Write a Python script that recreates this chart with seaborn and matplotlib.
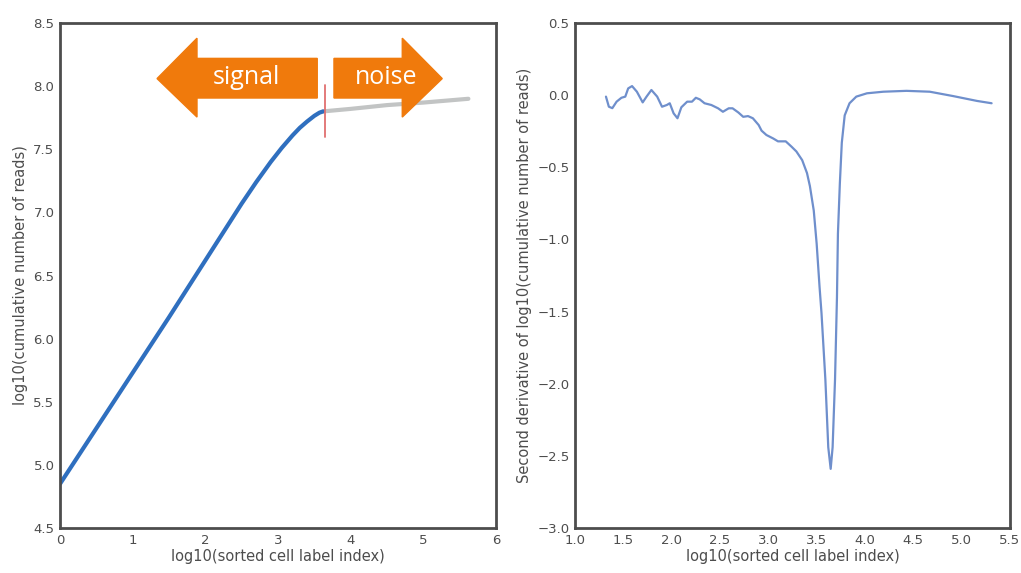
import numpy as np
import pandas as pd
import seaborn as sns
import matplotlib.pyplot as plt
from matplotlib.patches import Polygon

# cumulative reads curve (left panel)
signal_x = [0.0, 0.5, 1.0, 1.5, 2.0, 2.5, 2.7, 2.9, 3.05, 3.2, 3.3, 3.4, 3.5, 3.57, 3.62]
signal_y = [4.85, 5.29, 5.73, 6.17, 6.62, 7.07, 7.24, 7.40, 7.51, 7.61, 7.67, 7.72, 7.765, 7.79, 7.80]
noise_x = [3.62, 4.0, 4.5, 5.0, 5.62]
noise_y = [7.80, 7.82, 7.85, 7.87, 7.90]
cutoff = 3.65

# second derivative curve (right panel)
deriv_x = [1.32, 1.35, 1.386, 1.43, 1.48, 1.52, 1.55, 1.59, 1.64, 1.70, 1.74, 1.79,
           1.85, 1.90, 1.95, 1.98, 2.02, 2.06, 2.10, 2.16, 2.21, 2.25, 2.29, 2.34,
           2.41, 2.48, 2.53, 2.59, 2.63, 2.69, 2.74, 2.79, 2.84, 2.90, 2.93, 2.98,
           3.05, 3.10, 3.18, 3.24, 3.29, 3.35, 3.40, 3.43, 3.47, 3.50, 3.53, 3.55,
           3.59, 3.62, 3.645, 3.665, 3.69, 3.71, 3.72, 3.74, 3.76, 3.79, 3.84, 3.91,
           4.02, 4.19, 4.43, 4.67, 4.91, 5.16, 5.31]
deriv_y = [-0.01, -0.08, -0.09, -0.045, -0.018, -0.01, 0.047, 0.063, 0.024, -0.05, -0.01, 0.036,
           -0.01, -0.08, -0.068, -0.056, -0.126, -0.16, -0.084, -0.045, -0.045, -0.018, -0.029, -0.056,
           -0.068, -0.091, -0.115, -0.091, -0.091, -0.12, -0.15, -0.145, -0.16, -0.207, -0.246, -0.276,
           -0.30, -0.32, -0.32, -0.357, -0.39, -0.45, -0.54, -0.63, -0.80, -1.03, -1.33, -1.51,
           -1.97, -2.44, -2.59, -2.44, -1.97, -1.40, -0.96, -0.61, -0.33, -0.14, -0.056, -0.01,
           0.013, 0.024, 0.03, 0.024, -0.006, -0.04, -0.056]

sig_df = pd.DataFrame({'x': signal_x, 'y': signal_y})
noise_df = pd.DataFrame({'x': noise_x, 'y': noise_y})
deriv_df = pd.DataFrame({'x': deriv_x, 'y': deriv_y})

sns.set_style('white', {'axes.edgecolor': '.3'})
plt.rcParams['font.family'] = ['DejaVu Sans']
plt.rcParams['axes.linewidth'] = 2.0

fig = plt.figure(figsize=(10.21, 5.73), dpi=100)
ax1 = fig.add_axes([0.0588, 0.0785, 0.427, 0.8813])
ax2 = fig.add_axes([0.5632, 0.0785, 0.426, 0.8813])

orange = '#f07a0c'

# left panel
sns.lineplot(data=noise_df, x='x', y='y', ax=ax1, color='#c2c4c4', lw=3, sort=False)
sns.lineplot(data=sig_df, x='x', y='y', ax=ax1, color='#2f6fbf', lw=3, sort=False)
ax1.plot([cutoff, cutoff], [7.6, 8.01], color='#e07070', lw=1.3)
ax1.set_xlim(0, 6)
ax1.set_ylim(4.5, 8.5)
ax1.set_xticks(range(0, 7))
ax1.set_yticks(np.arange(4.5, 8.51, 0.5))
ax1.set_xlabel('log10(sorted cell label index)', fontsize=10.5, color='.3')
ax1.set_ylabel('log10(cumulative number of reads)', fontsize=10.5, color='.3')

# arrows (decoration)
sig_arrow = [(1.335, 8.06), (1.885, 8.38), (1.885, 8.22), (3.54, 8.22),
             (3.54, 7.906), (1.885, 7.906), (1.885, 7.755)]
noise_arrow = [(5.26, 8.06), (4.71, 8.38), (4.71, 8.22), (3.77, 8.22),
               (3.77, 7.906), (4.71, 7.906), (4.71, 7.755)]
ax1.add_patch(Polygon(sig_arrow, closed=True, color=orange, zorder=5))
ax1.add_patch(Polygon(noise_arrow, closed=True, color=orange, zorder=5))
ax1.text(2.57, 8.07, 'signal', color='white', fontsize=18, family='Open Sans',
         ha='center', va='center', zorder=6)
ax1.text(4.49, 8.065, 'noise', color='white', fontsize=18, family='Open Sans',
         ha='center', va='center', zorder=6)

# right panel
sns.lineplot(data=deriv_df, x='x', y='y', ax=ax2, color='#6f8fcc', lw=1.6, sort=False)
ax2.set_xlim(1.0, 5.5)
ax2.set_ylim(-3.0, 0.5)
ax2.set_xticks(np.arange(1.0, 5.51, 0.5))
ax2.set_yticks(np.arange(-3.0, 0.51, 0.5))
ax2.set_xlabel('log10(sorted cell label index)', fontsize=10.5, color='.3')
ax2.set_ylabel('Second derivative of log10(cumulative number of reads)', fontsize=10.5, color='.3')

for ax in (ax1, ax2):
    ax.tick_params(labelsize=9.5, labelcolor='.3', length=0, pad=4)
    ax.xaxis.labelpad = 2
    ax.yaxis.labelpad = 4

fig.savefig('out.png', dpi=100)
